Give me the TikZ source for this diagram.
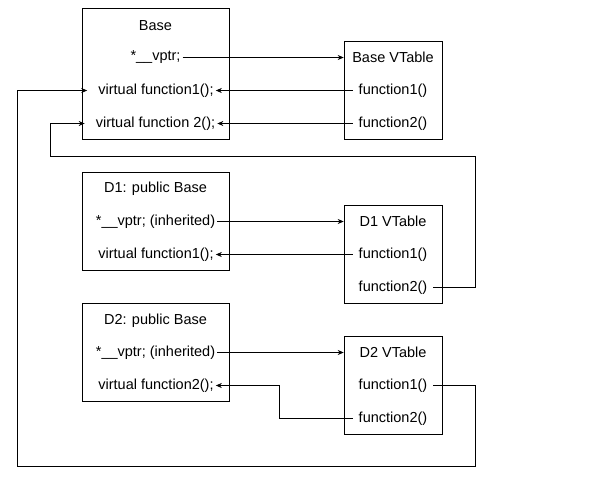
\documentclass[tikz,border=0pt]{standalone}
\usepackage{fontspec}
\setmainfont{Liberation Sans}
\usetikzlibrary{arrows.meta}

\tikzset{
  classbox/.style={draw, semithick, minimum width=147pt, minimum height=98pt, inner sep=0pt},
  tablebox/.style={draw, semithick, minimum width=98pt, minimum height=98pt, inner sep=0pt},
  entry/.style={inner sep=2pt},
  link/.style={semithick, -{Stealth[length=6pt, width=5pt]}},
  fromtab/.style={shorten <=4pt}
}

\begin{document}
\begin{tikzpicture}[x=1pt, y=-1pt, font=\fontsize{14.5}{16}\selectfont]
                \useasboundingbox (0,0) rectangle (606,483);

                % --- BASE CLASS ---
                \node[classbox, minimum height=131pt] (base) at (155.5,73.5) {};
                \node[entry] (baseName) at (155.5,25.5) {Base};
                \node[entry] (baseVptr) at (155.5,57.5) {*\_\_vptr;};
                \node[entry] (baseF1) at (156,90.5) {virtual function1();};
                \node[entry] (baseF2) at (155.5,123.5) {virtual function 2();};

                % Base VTable
                \node[tablebox] (baseTab) at (393,90) {};
                \node[entry] (baseTabName) at (393,57.5) {Base VTable};
                \node[entry] (baseTabF1) at (393,90.5) {function1()};
                \node[entry] (baseTabF2) at (393,123.5) {function2()};

                \draw[link] (baseVptr.east) -- (baseTab.west |- baseVptr.east);
                \draw[link, fromtab] (baseTabF1.west) -- (baseF1.east);
                \draw[link, fromtab] (baseTabF2.west) -- (baseF2.east);

                % --- D1 ---
                \node[classbox] (dOne) at (155.5,221) {};
                \node[entry] (dOneName) at (155.5,188.5) {D1: public Base};
                \node[entry] (dOneVptr) at (155.5,221.5) {*\_\_vptr; (inherited)};
                \node[entry] (dOneF1) at (156,254.5) {virtual function1();};

                % D1 VTable
                \node[tablebox] (dOneTab) at (393,254.5) {};
                \node[entry] (dOneTabName) at (393,221.5) {D1 VTable};
                \node[entry] (dOneTabF1) at (393,254.5) {function1()};
                \node[entry] (dOneTabF2) at (393,287.5) {function2()};

                \draw[link] (dOneVptr.east) -- (dOneTab.west |- dOneVptr.east);
                \draw[link, fromtab] (dOneTabF1.west) -- (dOneF1.east);
                % D1 inherits function2 from Base
                \draw[link, fromtab] (dOneTabF2.east) -- (475,287.5) -- (475,156) -- (50,156)
                    -- (50,123.5) -- ([xshift=-9pt]baseF2.west);

                % --- D2 ---
                \node[classbox] (dTwo) at (155.5,352) {};
                \node[entry] (dTwoName) at (155.5,320.5) {D2: public Base};
                \node[entry] (dTwoVptr) at (155.5,352.5) {*\_\_vptr; (inherited)};
                \node[entry] (dTwoF2) at (156,385.5) {virtual function2();};

                % D2 VTable
                \node[tablebox] (dTwoTab) at (393,385) {};
                \node[entry] (dTwoTabName) at (393,352.5) {D2 VTable};
                \node[entry] (dTwoTabF1) at (393,385.5) {function1()};
                \node[entry] (dTwoTabF2) at (393,418.5) {function2()};

                \draw[link] (dTwoVptr.east) -- (dTwoTab.west |- dTwoVptr.east);
                \draw[link, fromtab] (dTwoTabF2.west) -- (279,418.5) -- (279,385.5) -- (dTwoF2.east);
                % D2 inherits function1 from Base
                \draw[link, fromtab] (dTwoTabF1.east) -- (475,385.5) -- (475,466) -- (17,466)
                    -- (17,90.5) -- ([xshift=-9pt]baseF1.west);
            \end{tikzpicture}
\end{document}
